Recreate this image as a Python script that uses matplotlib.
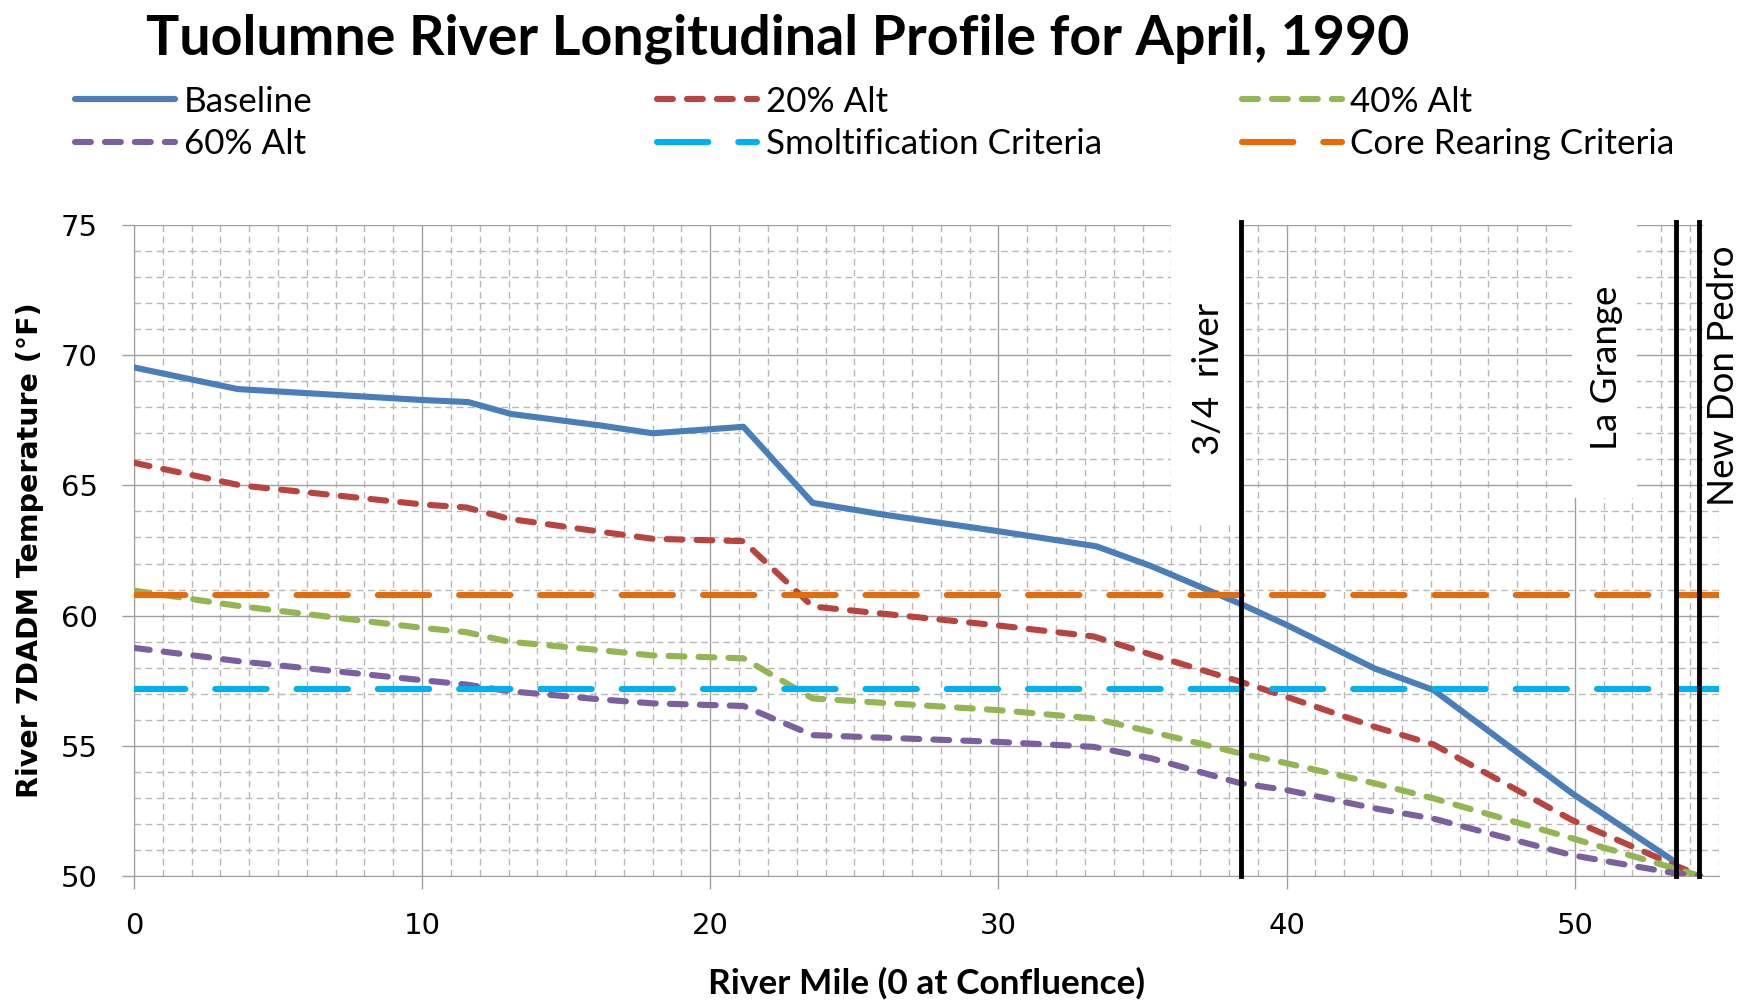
import matplotlib
matplotlib.use('Agg')
import matplotlib.pyplot as plt
from matplotlib.patches import Rectangle
from matplotlib.ticker import MultipleLocator

plt.rcParams['font.family'] = ['Lato', 'DejaVu Sans']

# 7DADM temperature (F) along the river
base_mile = [0, 3.6, 10.0, 11.6, 13.1, 16.2, 18.0, 21.15, 23.55, 26.0, 30.0, 33.4,
             35.3, 38.4, 40.0, 43.05, 45.1, 49.9, 53.4]
base_temp = [69.53, 68.7, 68.28, 68.2, 67.74, 67.3, 67.0, 67.25, 64.33, 63.88, 63.24, 62.66,
             61.9, 60.45, 59.64, 57.97, 57.14, 53.18, 50.6]

alt_mile = [0, 3.7, 10.0, 11.55, 13.0, 16.2, 18.0, 21.15, 23.55, 30.0, 33.3,
            35.3, 38.4, 40.0, 43.05, 45.1, 49.9, 53.5, 54.35]
alt20_temp = [65.87, 65.0, 64.27, 64.15, 63.72, 63.22, 62.95, 62.86, 60.35, 59.62, 59.2,
              58.5, 57.46, 56.88, 55.73, 55.05, 52.15, 50.4, 50.0]
alt40_temp = [60.96, 60.36, 59.53, 59.36, 59.0, 58.67, 58.47, 58.36, 56.82, 56.37, 56.05,
              55.54, 54.71, 54.33, 53.56, 52.98, 51.45, 50.28, 50.0]
alt60_temp = [58.76, 58.24, 57.52, 57.35, 57.1, 56.78, 56.63, 56.53, 55.41, 55.15, 54.96,
              54.52, 53.56, 53.3, 52.6, 52.2, 50.8, 50.1, 50.0]

crit_mile = [0, 55]
smolt_temp = 57.2   # 14 C
core_temp = 60.8    # 16 C

marker_miles = [38.4, 53.5, 54.3]
marker_names = ['3/4  river', 'La Grange', 'New Don Pedro']

fig = plt.figure(figsize=(17.46, 10), dpi=100)
ax = fig.add_axes([0.0767, 0.124, 0.9078, 0.651])

lw = 4.4
dot = dict(linestyle=(0, (2.6, 2.3)), dash_capstyle='round', lw=lw)
longdash = dict(linestyle=(0, (8.4, 4.9)), dash_capstyle='round', lw=lw)

l_base, = ax.plot(base_mile, base_temp, color='#4a7ebb', lw=lw, solid_capstyle='round', zorder=3)
l_20, = ax.plot(alt_mile, alt20_temp, color='#b8443f', zorder=3, **dot)
l_40, = ax.plot(alt_mile, alt40_temp, color='#93b552', zorder=3, **dot)
l_60, = ax.plot(alt_mile, alt60_temp, color='#7b5f9f', zorder=3, **dot)
l_smolt, = ax.plot(crit_mile, [smolt_temp] * 2, color='#00b0f0', zorder=3, **longdash)
l_core, = ax.plot(crit_mile, [core_temp] * 2, color='#e46c0a', zorder=3, **longdash)

for m in marker_miles:
    ax.plot([m, m], [50, 75.1], color='black', lw=3.5, zorder=4, clip_on=False)

# white text boxes behind the site labels (they hide the grid)
ax.add_patch(Rectangle((36.0, 63.6), 2.35, 11.5, facecolor='white', edgecolor='none', zorder=1))
ax.add_patch(Rectangle((49.9, 64.5), 2.25, 10.6, facecolor='white', edgecolor='none', zorder=1))
ax.add_patch(Rectangle((54.45, 64.2), 1.0, 10.9, facecolor='white', edgecolor='none', zorder=1))

ax.text(37.3, 69.1, marker_names[0], rotation=90, ha='center', va='center', fontsize=26.5)
ax.text(51.1, 69.5, marker_names[1], rotation=90, ha='center', va='center', fontsize=26.5)
ax.text(55.15, 69.2, marker_names[2], rotation=90, ha='center', va='center', fontsize=26.5,
        clip_on=False)

ax.set_xlim(0, 55)
ax.set_ylim(50, 75)
ax.xaxis.set_major_locator(MultipleLocator(10))
ax.xaxis.set_minor_locator(MultipleLocator(1))
ax.yaxis.set_major_locator(MultipleLocator(5))
ax.yaxis.set_minor_locator(MultipleLocator(1))
ax.set_axisbelow(True)
ax.grid(which='major', color='#a0a0a0', lw=1.0)
ax.grid(which='minor', color='#b8b8b8', lw=1.0, linestyle=(0, (4.8, 3.2)))

for s in ['top', 'right']:
    ax.spines[s].set_visible(False)
for s in ['left', 'bottom']:
    ax.spines[s].set_color('#a0a0a0')
ax.tick_params(which='major', length=9, width=1, color='#a0a0a0', pad=17,
               labelsize=21, labelfontfamily='DejaVu Sans')
ax.tick_params(which='minor', length=0)

ax.set_xlabel('River Mile (0 at Confluence)', fontsize=25.4, fontweight='bold', labelpad=19)
ax.set_ylabel('River 7DADM Temperature (°F)', fontsize=20.5, fontweight='bold',
              family='DejaVu Sans', labelpad=12)

fig.text(0.4456, 0.946, 'Tuolumne River Longitudinal Profile for April, 1990',
         ha='center', va='baseline', fontsize=40, fontweight='bold')

cols = [([l_base, l_60], ['Baseline', '60% Alt']),
        ([l_20, l_smolt], ['20% Alt', 'Smoltification Criteria']),
        ([l_40, l_core], ['40% Alt', 'Core Rearing Criteria'])]
for x0, (hs, labs) in zip([0.043, 0.3763, 0.7113], cols):
    fig.legend(hs, labs, loc='center left', bbox_to_anchor=(x0, 0.877), frameon=False,
               fontsize=25.2, borderpad=0, borderaxespad=0, handlelength=2.85,
               handletextpad=0.25, labelspacing=0.31)

fig.savefig('out.png', dpi=100)
